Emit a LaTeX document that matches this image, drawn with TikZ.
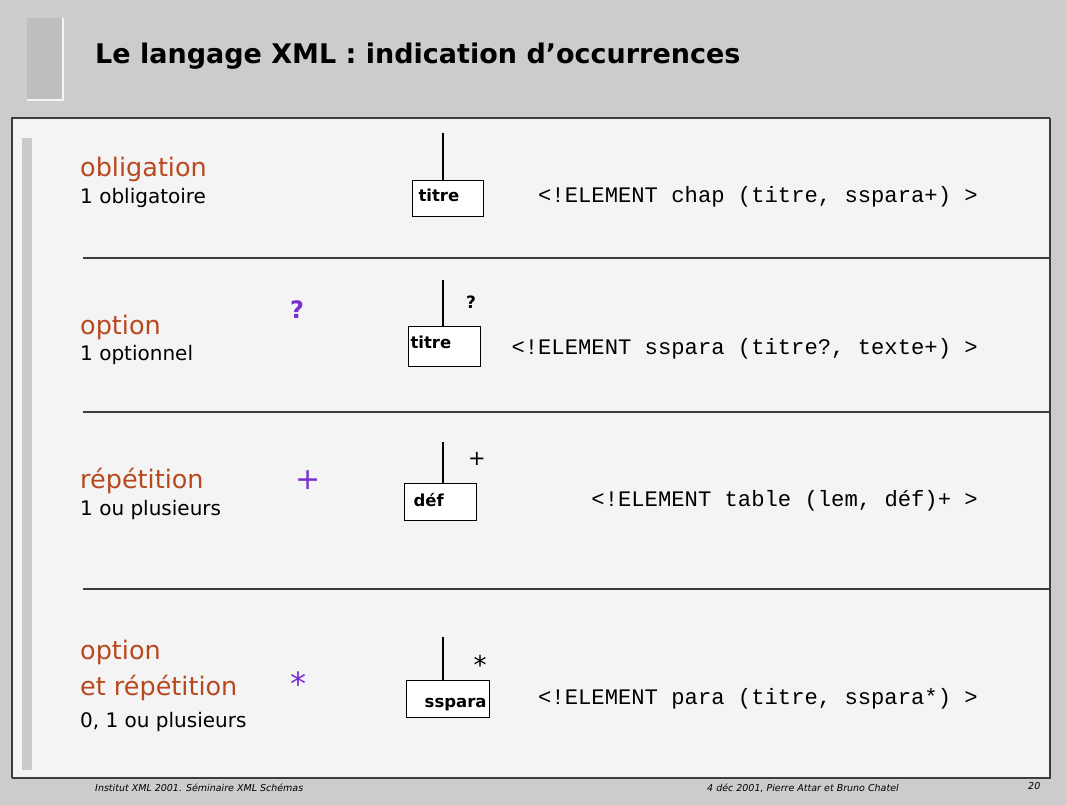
\documentclass[tikz,border=0pt]{standalone}
\usepackage{fontspec}
\setmainfont{DejaVu Sans}
\setmonofont{Liberation Mono}
\usepackage{xcolor}
\usepackage{tikz}
\usetikzlibrary{positioning,calc}
\definecolor{slidegray}{RGB}{204,204,204}
\definecolor{panelbg}{RGB}{244,244,244}
\definecolor{stripgray}{RGB}{190,190,190}
\definecolor{labelred}{RGB}{184,72,30}
\definecolor{symbviolet}{RGB}{122,48,208}
\definecolor{rulegray}{RGB}{60,60,60}

\begin{document}
\begin{tikzpicture}[
        x=1pt,y=-1pt,
        ttl/.style={anchor=base west,inner sep=0pt,font=\fontsize{27}{30}\bfseries\selectfont},
        lbl/.style={anchor=base west,inner sep=0pt,text=labelred,font=\fontsize{25.5}{30}\selectfont},
        sub/.style={anchor=base west,inner sep=0pt,font=\fontsize{20}{24}\selectfont},
        sym/.style={inner sep=0pt,text=symbviolet,font=\fontsize{24}{26}\bfseries\selectfont},
        mk/.style={inner sep=0pt,font=\fontsize{21}{24}\selectfont},
        tbox/.style={draw,line width=1.1pt,fill=white,anchor=north west,inner ysep=0pt,
                     inner xsep=4pt,font=\fontsize{16.5}{18}\bfseries\selectfont},
        dtd/.style={anchor=base east,inner sep=0pt,font=\fontsize{22.2}{26}\ttfamily\selectfont},
        stem/.style={line width=1.1pt},
        sep/.style={line width=1.5pt,rulegray},
        foot/.style={anchor=base west,inner sep=0pt,font=\fontsize{9.5}{11}\itshape\selectfont},
      ]
        % slide background and frame
        \fill[slidegray](0,0)rectangle(1066,805);
        \useasboundingbox(0,0)rectangle(1066,805);
        \fill[stripgray](27,18)rectangle(63,100);
        \draw[white!92!gray,line width=1.5pt](63,18)--(63,100)--(27,100);
        \draw[panelbg,fill=panelbg](12,118)rectangle(1050,778);
        \draw[rulegray,line width=1.2pt](12,778)--(12,118)--(1050,118);
        \draw[rulegray,line width=2.5pt](12,778)--(1050,778)--(1050,118);
        \fill[stripgray!80!white](22,138)rectangle(32,770);
        \node[ttl](title)at(95,64){Le langage XML : indication d’occurrences};

        % separators
        \draw[sep](83,258)--(1050,258);
        \draw[sep](83,412)--(1050,412);
        \draw[sep](83,589)--(1050,589);

        % left column
        \node[lbl](obl)at(80,177){obligation};
        \node[sub](oblsub)at(80,204){1 obligatoire};
        \node[lbl](opt)at(80,334){option};
        \node[sub](optsub)at(80,360){1 optionnel};
        \node[lbl](rep)at(80,488){répétition};
        \node[sub](repsub)at(80,515){1 ou plusieurs};
        \node[lbl](optrep)at(80,659){option};
        \node[lbl](optrep2)at(80,695){et répétition};
        \node[sub](optrepsub)at(80,727){0, 1 ou plusieurs};
        \node[sym](symopt)at(297,310){?};
        \node[sym,font=\fontsize{30}{30}\selectfont](symrep)at(308,480){+};
        \node[sym,font=\fontsize{32}{30}\selectfont](symstar)at(298,684){*};

        % element boxes
        \node[tbox,text width=63pt,text height=20.7pt,text depth=15.3pt](btitre1)at(412,180){\hspace{2pt}titre};
        \node[tbox,inner xsep=2pt,text width=68pt,text height=22pt,text depth=18pt](btitre2)at(408,326){titre};
        \node[tbox,text width=64pt,text height=23pt,text depth=14pt](bdef)at(404,483){\hspace{5pt}déf};
        \node[tbox,inner xsep=3pt,text width=77pt,text height=27pt,text depth=10pt,align=right](bsspara)at(406,680){sspara};

        \coordinate(top1)at(443,133);
        \coordinate(top2)at(443,280);
        \coordinate(top3)at(443,442);
        \coordinate(top4)at(443,637);
        \draw[stem](top1)--(top1|-btitre1.north);
        \draw[stem](top2)--(top2|-btitre2.north);
        \draw[stem](top3)--(top3|-bdef.north);
        \draw[stem](top4)--(top4|-bsspara.north);
        \node[mk,font=\fontsize{17}{18}\bfseries\selectfont](mkopt)at(471,302){?};
        \node[mk](mkrep)at(477,459){+};
        \node[mk,font=\fontsize{26}{26}\selectfont](mkstar)at(480,665){*};

        % DTD declarations
        \node[dtd](dtd1)at(978,203){<!ELEMENT chap (titre, sspara+) >};
        \node[dtd](dtd2)at(978,354){<!ELEMENT sspara (titre?, texte+) >};
        \node[dtd](dtd3)at(978,506){<!ELEMENT table (lem, déf)+ >};
        \node[dtd](dtd4)at(978,704){<!ELEMENT para (titre, sspara*) >};

        % footer
        \node[foot](footl)at(95,791){Institut XML 2001. Séminaire XML Schémas};
        \node[foot](footr)at(707,791){4 déc 2001, Pierre Attar et Bruno Chatel};
        \node[foot](pagenum)at(1028,789){20};
      \end{tikzpicture}
\end{document}
